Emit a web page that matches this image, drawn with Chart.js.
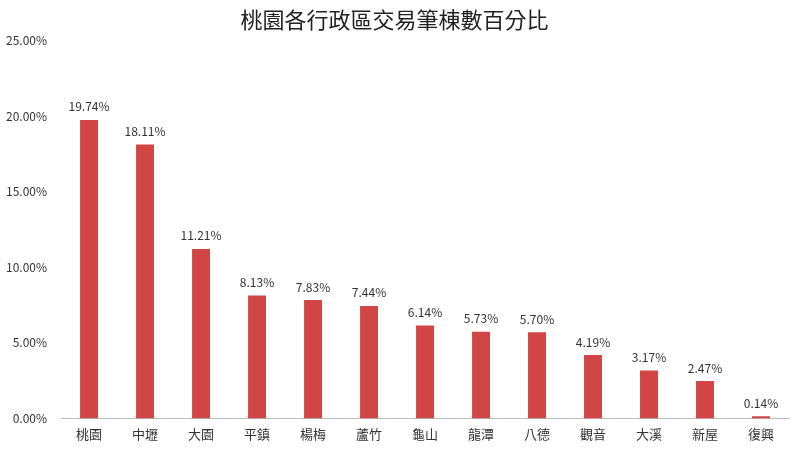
<!DOCTYPE html>
<html><head><meta charset="utf-8">
<script src="https://cdn.jsdelivr.net/npm/chart.js@4/dist/chart.umd.min.js"></script>
<style>html,body{margin:0;padding:0;background:#fff}#w{width:791px;height:461px}</style>
</head><body><div id="w"><canvas id="c"></canvas></div>
<script>
const categories=["桃園","中壢","大園","平鎮","楊梅","蘆竹","龜山","龍潭","八德","觀音","大溪","新屋","復興"];
const values=[19.74,18.11,11.21,8.13,7.83,7.44,6.14,5.73,5.70,4.19,3.17,2.47,0.14];
const title="桃園各行政區交易筆棟數百分比";
const font="'Noto Sans CJK TC','Noto Sans',sans-serif";
const labelPlugin={id:'lbl',afterDatasetsDraw(ch){const ctx=ch.ctx;const m=ch.getDatasetMeta(0);ctx.save();ctx.font="12px "+font;ctx.fillStyle="#333";ctx.textAlign="center";ctx.textBaseline="bottom";m.data.forEach((b,i)=>{ctx.fillText(values[i].toFixed(2)+"%",b.x,b.y-7);});ctx.restore();}};
new Chart(document.getElementById('c'),{type:'bar',data:{labels:categories,datasets:[{data:values,backgroundColor:'#d24545',categoryPercentage:1,barPercentage:0.32}]},
options:{responsive:true,maintainAspectRatio:false,animation:false,
layout:{padding:{left:0,right:2,top:4,bottom:11}},
plugins:{legend:{display:false},tooltip:{enabled:false},title:{display:true,text:title,color:'#222',font:{family:font,size:22,weight:'normal'},padding:{top:2,bottom:8}}},
scales:{x:{grid:{display:false,drawTicks:false},border:{color:'#bbb'},ticks:{color:'#333',font:{family:font,size:13},padding:8}},
y:{min:0,max:25,grid:{display:false},border:{display:false},ticks:{stepSize:5,color:'#333',font:{family:font,size:12},callback:v=>v.toFixed(2)+'%',padding:6}}}},
plugins:[labelPlugin]});
</script></body></html>
